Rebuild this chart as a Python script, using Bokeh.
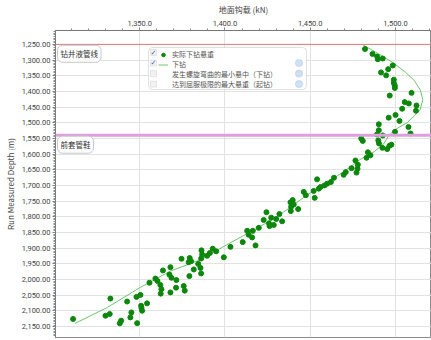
from bokeh.plotting import figure
from bokeh.models import (Range1d, SingleIntervalTicker, NumeralTickFormatter, Span, Label,
                          Legend, LegendItem, BoxAnnotation)
from bokeh.embed import file_html
from bokeh.resources import INLINE

# ---- data ----
hook_load_kn = [1482.1, 1486.5, 1489.2, 1489.6, 1492.5, 1495.7, 1498.4, 1491.5, 1494.5, 1499.0,
                1499.0, 1499.6, 1499.6, 1496.6, 1509.4, 1505.4, 1507.8, 1512.3, 1503.9, 1512.0,
                1500.0, 1496.0, 1502.3, 1490.2, 1507.6, 1499.7, 1508.8, 1490.2, 1489.1, 1492.5,
                1479.9, 1480.8, 1489.9, 1490.3, 1492.3, 1495.1, 1496.4, 1497.6, 1483.8, 1485.3,
                1483.0, 1476.5, 1477.9, 1477.7, 1474.2, 1477.1, 1470.8, 1469.6, 1463.9, 1462.1,
                1459.9, 1458.3, 1456.0, 1454.0, 1455.0, 1452.0, 1452.6, 1446.2, 1447.4, 1439.7,
                1438.4, 1440.3, 1438.8, 1438.6, 1442.9, 1424.3, 1431.9, 1427.1, 1430.0, 1422.7,
                1433.5, 1425.8, 1426.1, 1428.6, 1419.8, 1416.3, 1413.0, 1413.9, 1415.9, 1417.9,
                1410.4, 1403.2, 1399.3, 1394.8, 1392.8, 1391.1, 1389.5, 1386.2, 1386.6, 1386.0,
                1384.3, 1385.6, 1386.0, 1381.7, 1379.3, 1380.1, 1378.7, 1374.5, 1379.1, 1368.0,
                1363.6, 1367.4, 1368.6, 1371.5, 1371.3, 1368.0, 1375.8, 1376.4, 1355.7, 1359.2,
                1360.4, 1362.1, 1362.7, 1362.3, 1354.3, 1350.4, 1348.1, 1350.8, 1351.0, 1351.4,
                1342.6, 1345.1, 1344.5, 1348.5, 1338.3, 1339.1, 1332.8, 1329.9, 1332.4, 1310.9]
depth_m = [1264.8, 1280.6, 1288.8, 1297.4, 1295.2, 1329.0, 1317.3, 1339.4, 1348.8, 1362.7,
           1373.2, 1381.7, 1389.0, 1413.3, 1404.7, 1434.1, 1438.5, 1444.8, 1455.3, 1461.6,
           1475.2, 1483.7, 1494.1, 1504.9, 1513.7, 1528.9, 1534.2, 1523.8, 1537.4, 1540.5,
           1550.0, 1557.9, 1556.3, 1565.8, 1580.0, 1583.8, 1573.7, 1569.9, 1594.2, 1603.7,
           1611.6, 1620.4, 1633.7, 1646.3, 1644.8, 1659.0, 1657.4, 1665.9, 1675.4, 1689.0,
           1694.3, 1700.0, 1704.8, 1680.4, 1710.1, 1717.4, 1739.5, 1720.5, 1731.0, 1746.7,
           1753.7, 1760.7, 1767.9, 1781.5, 1775.2, 1785.3, 1791.0, 1802.7, 1806.8, 1809.9,
           1814.3, 1820.7, 1829.5, 1825.7, 1835.2, 1844.7, 1844.7, 1857.3, 1865.8, 1891.1,
           1880.6, 1895.8, 1929.0, 1910.0, 1901.5, 1915.4, 1924.2, 1906.9, 1920.4, 1933.1,
           1950.1, 1962.8, 1980.4, 1967.8, 1931.2, 1941.6, 1944.8, 1933.7, 1989.0, 1960.6,
           1971.0, 1984.2, 1994.3, 2001.6, 2025.9, 2041.1, 2020.6, 2035.4, 2010.1, 1996.9,
           2004.8, 2017.4, 2031.0, 2044.9, 2075.8, 2049.0, 2055.3, 2083.7, 2091.0, 2099.5,
           2070.1, 2104.9, 2120.7, 2139.0, 2139.6, 2131.1, 2060.7, 2115.3, 2109.9, 2125.7]

trip_in_kn = [1312, 1331, 1350, 1368, 1386, 1401, 1419, 1432, 1448, 1462, 1471, 1479, 1487,
              1493, 1496, 1500, 1507, 1511, 1514.5, 1516, 1514.5, 1511, 1506, 1499, 1490, 1481]
trip_in_depth = [2140, 2089, 2026, 1973, 1936, 1889, 1836, 1794, 1731, 1683, 1651, 1618, 1594,
                 1568, 1541, 1521, 1499, 1478, 1458, 1426, 1395, 1365, 1340, 1310, 1280, 1252]

marker_depths = [1250, 1540]
marker_names = ["钻井液管线", "前套管鞋"]
legend_labels = ["实际下钻悬重", "下钻", "发生螺旋弯曲的最小悬中（下钻）", "达到屈服极限的最大悬重（起钻）"]

FONT = "Noto Sans CJK SC"
LEG_FONT = "Roboto, Noto Sans CJK SC"
NUM_FONT = "Roboto"

p = figure(width=431, height=340, output_backend="svg", toolbar_location=None,
           x_range=Range1d(1300.6, 1521.1), y_range=Range1d(2184.8, 1205.8),
           x_axis_location="above", min_border_left=55, min_border_top=27,
           min_border_right=0, min_border_bottom=3)
p.background_fill_color = "white"
p.border_fill_color = "white"
p.outline_line_color = "#8a8a8a"

xa = p.xaxis[0]
xa.ticker = SingleIntervalTicker(interval=50, num_minor_ticks=5)
xa.formatter = NumeralTickFormatter(format="0,0.0")
xa.axis_label = "地面钩载 (kN)"
ya = p.yaxis[0]
ya.ticker = SingleIntervalTicker(interval=50, num_minor_ticks=10)
ya.formatter = NumeralTickFormatter(format="0,0.00")
ya.axis_label = "Run Measured Depth (m)"
for ax in (xa, ya):
    ax.axis_line_color = "#777777"
    ax.major_tick_line_color = "#777777"
    ax.minor_tick_line_color = "#888888"
    ax.major_tick_out = 3
    ax.major_tick_in = 0
    ax.minor_tick_out = 2
    ax.minor_tick_in = 0
    ax.major_label_text_font = NUM_FONT
    ax.major_label_text_font_size = "7.5px"
    ax.major_label_text_color = "#444444"
    ax.major_label_standoff = 2
    ax.axis_label_text_font = FONT
    ax.axis_label_text_font_size = "8px"
    ax.axis_label_text_font_style = "normal"
    ax.axis_label_text_color = "#444444"
    ax.axis_label_standoff = 3
p.xgrid.grid_line_color = "#e2e2e2"
p.ygrid.grid_line_color = "#e2e2e2"

# casing / marker lines
p.add_layout(Span(location=marker_depths[0], dimension="width", line_color="#e07a7a", line_width=1))
p.add_layout(Span(location=marker_depths[1], dimension="width", line_color="#dd9fdd", line_width=3))

line_r = p.line(trip_in_kn, trip_in_depth, line_color="#6cc76c", line_width=1)
sc_r = p.scatter(hook_load_kn, depth_m, marker="circle", size=5, fill_color="#0b870b",
                 line_color="#0b870b")
red1 = p.line([], [], line_color="#e04848", line_width=1.5)
red2 = p.line([], [], line_color="#e04848", line_width=1.5)

for name, d in zip(marker_names, marker_depths):
    p.add_layout(Label(x=2, x_units="screen", y=d + 30, text=name, anchor="center_left",
                       text_font=FONT, text_font_size="7.5px", text_color="#333333",
                       padding=3, border_radius=5, border_line_color="#c8c8c8",
                       background_fill_color="white"))

# legend panel (frame-relative screen units)
p.add_layout(BoxAnnotation(left=93, right=251, bottom=248, top=290,
                           left_units="screen", right_units="screen",
                           top_units="screen", bottom_units="screen",
                           fill_color="white", fill_alpha=1.0, line_color="#9a9a9a",
                           line_width=1, border_radius=4))
row_y = [285.0, 274.5, 263.9, 253.4]
for i, ry in enumerate(row_y):
    p.add_layout(BoxAnnotation(left=95, right=101, bottom=ry - 3, top=ry + 3,
                               left_units="screen", right_units="screen",
                               top_units="screen", bottom_units="screen",
                               fill_color="#f2f2f2", fill_alpha=1.0, line_color="#b5b5b5",
                               line_width=1))
    if i < 2:
        p.add_layout(Label(x=98, y=ry, x_units="screen", y_units="screen", text="✓",
                           anchor="center", text_font="DejaVu Sans", text_font_size="7px",
                           text_color="#4a63c8"))
    if i > 0:
        p.add_layout(BoxAnnotation(left=240, right=247, bottom=ry - 3.5, top=ry + 3.5,
                                   left_units="screen", right_units="screen",
                                   top_units="screen", bottom_units="screen",
                                   fill_color="#cfe0f4", fill_alpha=1.0, line_color="#8fb0d8",
                                   line_width=1, border_radius=3))

legend = Legend(items=[LegendItem(label=legend_labels[0], renderers=[sc_r]),
                       LegendItem(label=legend_labels[1], renderers=[line_r]),
                       LegendItem(label=legend_labels[2], renderers=[red1]),
                       LegendItem(label=legend_labels[3], renderers=[red2])],
                location=(103, 248), orientation="vertical", glyph_width=10, glyph_height=9,
                label_height=9, spacing=0, padding=0, margin=0, label_standoff=4,
                border_line_color=None, background_fill_alpha=0.0,
                label_text_font=LEG_FONT, label_text_font_size="7px", label_text_color="#555555")
p.add_layout(legend)

open("out.html", "w").write(file_html(p, INLINE))
